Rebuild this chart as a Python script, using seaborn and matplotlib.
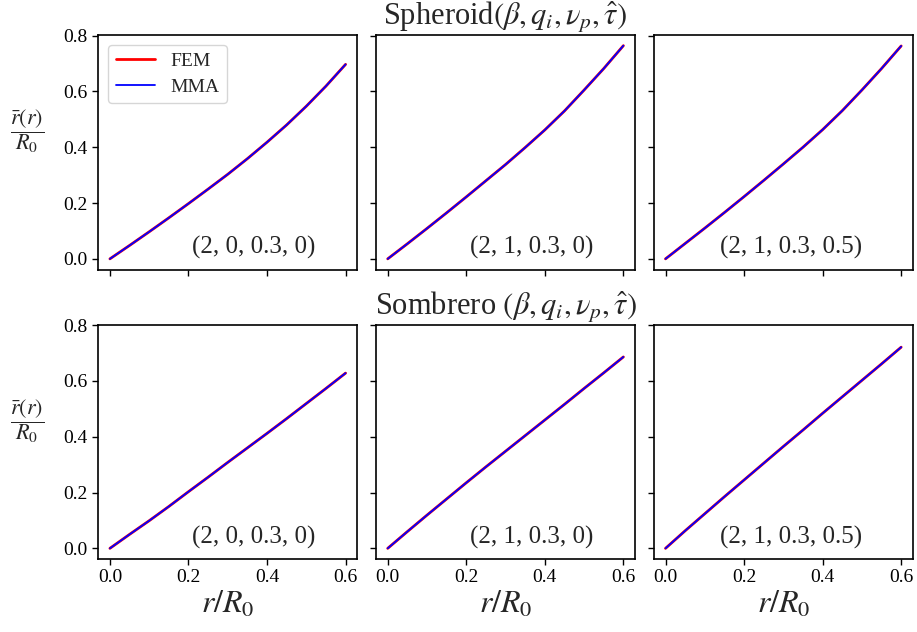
import numpy as np
import pandas as pd
import matplotlib
matplotlib.use("Agg")
import matplotlib.pyplot as plt
import seaborn as sns

# ---- data ----
r = [0.0, 0.05, 0.10, 0.15, 0.20, 0.25, 0.30, 0.35, 0.40, 0.45, 0.50, 0.55, 0.60]

spheroid_a = [0.0, 0.048, 0.097, 0.147, 0.198, 0.250, 0.303, 0.359, 0.418, 0.480, 0.547, 0.619, 0.697]
spheroid_b = [0.0, 0.054, 0.109, 0.165, 0.222, 0.280, 0.338, 0.399, 0.462, 0.530, 0.605, 0.682, 0.764]
spheroid_c = [0.0, 0.055, 0.110, 0.166, 0.223, 0.281, 0.340, 0.400, 0.463, 0.531, 0.605, 0.682, 0.763]
sombrero_a = [0.0, 0.050, 0.099, 0.150, 0.203, 0.255, 0.308, 0.360, 0.412, 0.465, 0.519, 0.573, 0.628]
sombrero_b = [0.0, 0.060, 0.119, 0.177, 0.235, 0.292, 0.348, 0.404, 0.460, 0.516, 0.573, 0.629, 0.686]
sombrero_c = [0.0, 0.063, 0.124, 0.185, 0.245, 0.305, 0.365, 0.424, 0.484, 0.543, 0.602, 0.661, 0.721]

fem = [[spheroid_a, spheroid_b, spheroid_c], [sombrero_a, sombrero_b, sombrero_c]]
mma = [[spheroid_a, spheroid_b, spheroid_c], [sombrero_a, sombrero_b, sombrero_c]]

params = [["(2, 0, 0.3, 0)", "(2, 1, 0.3, 0)", "(2, 1, 0.3, 0.5)"],
          ["(2, 0, 0.3, 0)", "(2, 1, 0.3, 0)", "(2, 1, 0.3, 0.5)"]]
row_titles = [r"Spheroid$(\beta, q_i, \nu_p, \hat{\tau})$",
              r"Sombrero $(\beta, q_i, \nu_p, \hat{\tau})$"]
xticks = [0.0, 0.2, 0.4, 0.6]
yticks = [0.0, 0.2, 0.4, 0.6, 0.8]

# ---- style ----
sns.set_theme(style="ticks")
plt.rcParams["font.family"] = ["Liberation Serif", "DejaVu Serif"]
plt.rcParams["mathtext.fontset"] = "stix"
plt.rcParams["axes.edgecolor"] = "black"
plt.rcParams["xtick.color"] = "black"
plt.rcParams["ytick.color"] = "black"

fig, axes = plt.subplots(2, 3, figsize=(9.17, 6.32), dpi=100, sharex=True, sharey=True)
fig.subplots_adjust(left=0.107, right=0.9956, top=0.9446, bottom=0.1155,
                    wspace=0.0716, hspace=0.2345)

text_x = [0.6, 0.6, 0.53]
for i in range(2):
    for j in range(3):
        ax = axes[i, j]
        df = pd.DataFrame({"r": r, "FEM": fem[i][j], "MMA": mma[i][j]})
        sns.lineplot(data=df, x="r", y="FEM", ax=ax, color="#ff0000", linewidth=2.0,
                     label="FEM" if (i == 0 and j == 0) else None)
        sns.lineplot(data=df, x="r", y="MMA", ax=ax, color="#0000ff", linewidth=1.3,
                     label="MMA" if (i == 0 and j == 0) else None)
        ax.set_xticks(xticks)
        ax.set_yticks(yticks)
        ax.tick_params(labelsize=14, direction="out", length=4, width=1)
        for s in ax.spines.values():
            s.set_linewidth(1.2)
            s.set_color("black")
        ax.text(text_x[j], 0.094, params[i][j], transform=ax.transAxes,
                ha="center", va="center", fontsize=18)
        if i == 1:
            ax.set_xlabel(r"$r/R_0$", fontsize=23, labelpad=2)
        else:
            ax.set_xlabel("")
        if j == 0:
            ax.set_ylabel(r"$\dfrac{\bar{r}(r)}{R_0}$", fontsize=16, rotation=0,
                          va="center", ha="center")
            ax.yaxis.set_label_coords(-0.273, 0.59)
        else:
            ax.set_ylabel("")
        if ax.get_legend() is not None and not (i == 0 and j == 0):
            ax.get_legend().remove()
    axes[i, 1].set_title(row_titles[i], fontsize=22, pad=5)

axes[0, 0].legend(loc="upper left", fontsize=14, frameon=True, fancybox=True,
                  edgecolor="#cccccc", handlelength=2.0, borderpad=0.4,
                  labelspacing=0.4)

fig.savefig("out.png", dpi=100)
